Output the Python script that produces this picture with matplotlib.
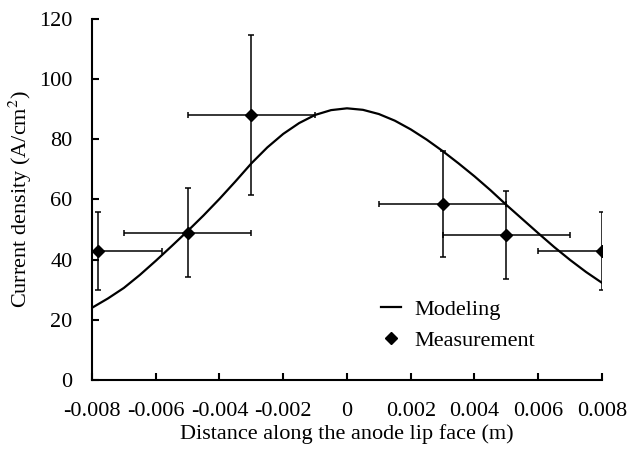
import matplotlib.pyplot as plt
from matplotlib.lines import Line2D

plt.rcParams['font.family'] = ['Liberation Serif', 'DejaVu Serif']
plt.rcParams['mathtext.fontset'] = 'stix'

# modeled current density curve
model_x = [-0.008, -0.0075, -0.007, -0.0065, -0.006, -0.0055, -0.005, -0.0045,
           -0.004, -0.0035, -0.003, -0.0025, -0.002, -0.0015, -0.001, -0.0005,
           0.0, 0.0005, 0.001, 0.0015, 0.002, 0.0025, 0.003, 0.0035,
           0.004, 0.0045, 0.005, 0.0055, 0.006, 0.0065, 0.007, 0.0075, 0.008]
model_y = [24, 27.1, 30.6, 34.9, 39.6, 44.5, 49.5, 54.7,
           60.2, 66.0, 72.0, 77.3, 81.8, 85.4, 88.1, 89.7,
           90.3, 89.8, 88.4, 86.2, 83.3, 79.9, 76.1, 72.0,
           67.7, 63.1, 58.2, 53.5, 48.8, 44.2, 39.9, 35.9, 32.3]

# measurements
meas_x = [-0.0078, -0.005, -0.003, 0.003, 0.005, 0.008]
meas_y = [42.8, 49, 88.2, 58.5, 48.3, 43]
meas_xerr = [0.002, 0.002, 0.002, 0.002, 0.002, 0.002]
meas_yerr = [13, 14.7, 26.6, 17.7, 14.6, 13]

fig = plt.figure(figsize=(6.27, 4.57), dpi=100)
ax = fig.add_axes([0.1467, 0.1685, 0.8134, 0.79])

ax.plot(model_x, model_y, color='black', linewidth=1.6)
ax.errorbar(meas_x, meas_y, xerr=meas_xerr, yerr=meas_yerr, fmt='D',
            color='black', markersize=6.5, elinewidth=1.1, capsize=2.5,
            capthick=1.1)

ax.set_xlim(-0.008, 0.008)
ax.set_ylim(0, 120)
ax.set_xticks([-0.008, -0.006, -0.004, -0.002, 0, 0.002, 0.004, 0.006, 0.008])
ax.set_xticklabels(['-0.008', '-0.006', '-0.004', '-0.002', '0',
                    '0.002', '0.004', '0.006', '0.008'])
ax.set_yticks(range(0, 121, 20))

for s in ['top', 'right']:
    ax.spines[s].set_visible(False)
for s in ['left', 'bottom']:
    ax.spines[s].set_linewidth(1.5)
ax.tick_params(direction='in', length=5, width=1.5, labelsize=16)
ax.tick_params(axis='x', pad=16)
ax.tick_params(axis='y', pad=14)

ax.set_xlabel('Distance along the anode lip face (m)', fontsize=16, labelpad=2)
ax.set_ylabel('Current density (A/cm$^2$)', fontsize=16, labelpad=4)

handles = [Line2D([], [], color='black', linewidth=1.6),
           Line2D([], [], color='black', marker='D', markersize=6.5, linestyle='none')]
ax.legend(handles, ['Modeling', 'Measurement'], loc='center left',
          bbox_to_anchor=(0.527, 0.152), frameon=False, fontsize=16,
          handlelength=0.9, handletextpad=0.6, labelspacing=0.5)

plt.savefig('out.png', dpi=100)
